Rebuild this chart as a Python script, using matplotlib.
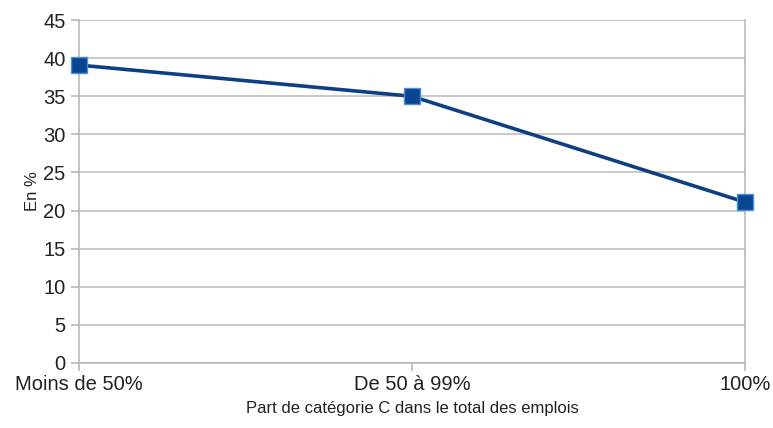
import matplotlib.pyplot as plt

plt.rcParams['font.family'] = ['Liberation Sans', 'DejaVu Sans']

categories = ["Moins de 50%", "De 50 à 99%", "100%"]
values = [39.1, 35.0, 21.1]
yticks = list(range(0, 50, 5))

fig = plt.figure(figsize=(7.73, 4.28), dpi=100)
ax = fig.add_axes([0.102, 0.152, 0.862, 0.801])

x = range(len(categories))
ax.plot(x, values, color='#0d3f85', linewidth=2.6, marker='s', markersize=11.5,
        markerfacecolor='#0a4590', markeredgecolor='#4a8fd8', markeredgewidth=1,
        zorder=3, clip_on=False)

ax.set_xlim(0, 2)
ax.set_ylim(0, 45)
ax.set_yticks(yticks)
ax.set_xticks(list(x))
ax.set_xticklabels(categories)
ax.grid(axis='y', color='#c0c0c0', linewidth=1.2)
ax.set_axisbelow(True)

ax.spines['top'].set_visible(False)
for side in ['left', 'right', 'bottom']:
    ax.spines[side].set_color('#b8b8b8')
    ax.spines[side].set_linewidth(1.2)
ax.tick_params(axis='both', colors='#b8b8b8', labelcolor='#222222', labelsize=14.5,
               length=6, width=1.2)
ax.tick_params(axis='x', pad=3)

ax.set_xlabel("Part de catégorie C dans le total des emplois", fontsize=12, color='#222222', labelpad=5)
ax.set_ylabel("En %", fontsize=12, color='#222222', labelpad=2)

fig.savefig("out.png", dpi=100)
